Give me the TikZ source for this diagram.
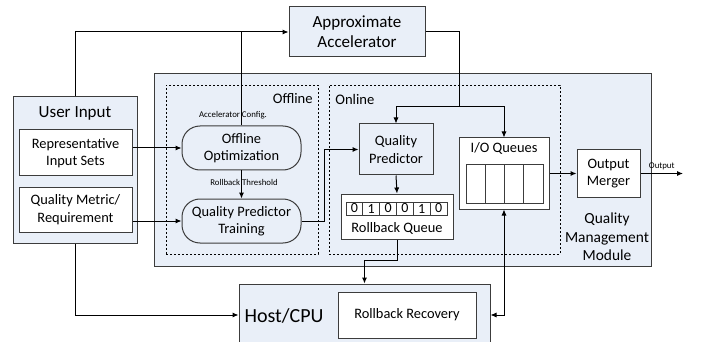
\documentclass[tikz,border=0pt]{standalone}
\usepackage{fontspec}
\setmainfont{Carlito}
\usetikzlibrary{arrows.meta,positioning}
\definecolor{boxblue}{RGB}{233,239,248}
\definecolor{linegray}{RGB}{60,60,60}

\begin{document}
\begin{tikzpicture}[x=0.5pt,y=-0.5pt,
      blue_box/.style={
         draw=linegray,
         line width=0.5pt,
         fill=boxblue,
         inner sep=0pt,
         align=center,
         font=\fontsize{8.5}{10.2}\selectfont},
      white_box/.style={
         draw=linegray,
         line width=0.5pt,
         fill=white,
         inner sep=0pt,
         align=center,
         font=\fontsize{7.2}{8.7}\selectfont},
      round_box/.style={
         blue_box,
         rounded corners=9pt,
         font=\fontsize{7.2}{8.7}\selectfont},
      dash_box/.style={
         draw=black,
         dash pattern=on 1.2pt off 0.8pt,
         line width=0.45pt,
         inner sep=0pt},
      cell_box/.style={
         draw=linegray,
         line width=0.45pt,
         inner sep=0pt,
         font=\fontsize{7}{8}\selectfont},
      small_lbl/.style={
         inner sep=0pt,
         font=\fontsize{4.4}{5.2}\selectfont},
      arrow_black/.style={
        -{Latex[length=3pt,width=2.6pt]},
        line width=0.5pt,
        },
      arrow_both/.style={
        {Latex[length=3pt,width=2.6pt]}-{Latex[length=3pt,width=2.6pt]},
        line width=0.5pt,
        }
]
      \useasboundingbox (0,0) rectangle (707,342);

      % quality management module
      \node[blue_box,minimum width=248.5pt,minimum height=96pt] (qmm) at (402.5,170) {};
      \node[dash_box,minimum width=76pt,minimum height=84.5pt] (offline) at (242,169.5) {};
      \node[dash_box,minimum width=115.5pt,minimum height=84.5pt] (online) at (444.5,169.5) {};
      \node[anchor=east,inner sep=0pt,font=\fontsize{7.3}{8.5}\selectfont] (offline_lbl) at (313,99) {Offline};
      \node[anchor=west,inner sep=0pt,font=\fontsize{7.3}{8.5}\selectfont] (online_lbl) at (335,99) {Online};
      \node[align=center,inner sep=0pt,font=\fontsize{7.7}{9.3}\selectfont] (qmm_lbl) at (607,237) {Quality\\Management\\Module};

      % accelerator and user input
      \node[blue_box,minimum width=68pt,minimum height=25pt] (acc) at (357,32) {Approximate\\Accelerator};
      \node[blue_box,minimum width=62pt,minimum height=73pt] (user) at (75,170) {};
      \node[inner sep=0pt,font=\fontsize{8.5}{10}\selectfont] (user_lbl) at (75,113) {User Input};
      \node[white_box,minimum width=56.5pt,minimum height=23pt] (rep) at (75.5,153) {Representative\\Input Sets};
      \node[white_box,minimum width=56.5pt,minimum height=22.5pt] (qm) at (75.5,209.5) {Quality Metric/\\Requirement};

      % offline
      \node[round_box,minimum width=59.5pt,minimum height=22pt] (oo) at (241.5,148) {Offline\\Optimization};
      \node[round_box,minimum width=59.5pt,minimum height=22pt] (qpt) at (241.5,221) {Quality Predictor\\Training};
      \node[small_lbl] (cfg_lbl) at (233,115) {Accelerator Config.};
      \node[small_lbl] (thr_lbl) at (244,182) {Rollback Threshold};

      % online
      \node[blue_box,minimum width=37pt,minimum height=25.5pt,font=\fontsize{7.2}{8.7}\selectfont] (qp) at (396,149.5) {Quality\\Predictor};
      \node[white_box,minimum width=56pt,minimum height=22.5pt] (rbq) at (397,216.5) {};
      \foreach \i/\b in {1/0,2/1,3/0,4/0,5/1,6/0}
        \node[cell_box,minimum width=8.4pt,minimum height=6.5pt] (rb\i) at ({346+16.83*(\i-0.5)},208.5) {\b};
      \node[inner sep=0pt,font=\fontsize{7.2}{8.7}\selectfont] (rbq_lbl) at (397,228) {Rollback Queue};
      \node[white_box,minimum width=45pt,minimum height=35.5pt] (io) at (504,173.5) {};
      \node[inner sep=0pt,font=\fontsize{7.2}{8.7}\selectfont] (io_lbl) at (504,148) {I/O Queues};
      \foreach \i in {1,...,4}
        \node[cell_box,minimum width=9.625pt,minimum height=19.5pt] (ioc\i) at ({466+19.25*(\i-0.5)},183.5) {};
      \node[white_box,minimum width=31.5pt,minimum height=23.5pt] (om) at (608.5,173.5) {Output\\Merger};

      % host
      \node[blue_box,minimum width=125.5pt,minimum height=31pt] (host) at (364.5,315) {};
      \node[inner sep=0pt,font=\fontsize{10}{12}\selectfont] (host_lbl) at (284,316) {Host/CPU};
      \node[white_box,minimum width=69pt,minimum height=23pt] (rr) at (407,315) {Rollback Recovery};

      \coordinate (split) at (459,107);
      \coordinate (qpt_turn) at (324,221);
      \coordinate (rbq_turn) at (397,260);
      \coordinate (out) at (683,173.5);

      % connectors
      \draw[arrow_black] (user.north) |- (acc.west);
      \draw[line width=0.5pt] (oo.north) -- (oo.north |- acc.west);
      \draw[line width=0.5pt] (acc.east) -| (split);
      \draw[arrow_black] (split) -| (qp.north);
      \draw[arrow_black] (split) -| (io.north);
      \draw[arrow_black] (rep.east |- oo.west) -- (oo.west);
      \draw[arrow_black] (qm.east |- qpt.west) -- (qpt.west);
      \draw[arrow_black] (oo.south) -- (qpt.north);
      \draw[arrow_black] (qpt.east) -- (qpt_turn) |- (qp.west);
      \draw[arrow_black] (qp.south) -- (rbq.north);
      \draw[arrow_black] (rbq.south) -- (rbq_turn) -| (host.north);
      \draw[arrow_black] (user.south) |- (host.west);
      \draw[arrow_both] (host.east) -| (io.south);
      \draw[arrow_black] (io.east) -- (om.west);
      \draw[arrow_black] (om.east) -- node[small_lbl,above=1.5pt] (out_lbl) {Output} (out);

\end{tikzpicture}
\end{document}
